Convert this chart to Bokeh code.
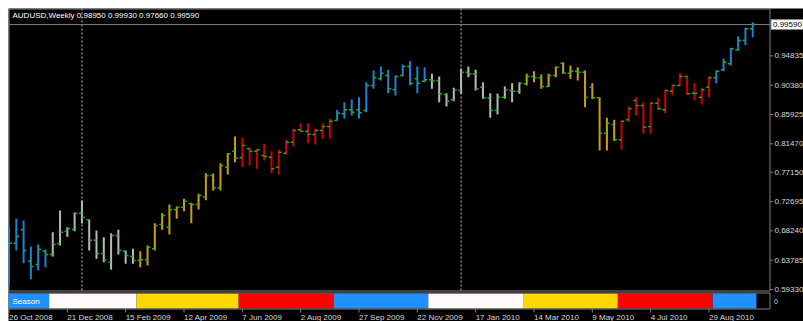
import pandas as pd
from bokeh.plotting import figure
from bokeh.models import Range1d, Span, ColumnDataSource
from bokeh.embed import file_html
from bokeh.resources import INLINE
from bokeh.core.properties import value

# ---------------- data ----------------
symbol = "AUDUSD,Weekly"
first_week = "2008-10-26"

opens = [0.6350, 0.6637, 0.6840, 0.6363, 0.6313, 0.6515, 0.6465, 0.6627, 0.6819, 0.6845,
         0.7093, 0.6992, 0.6680, 0.6480, 0.6348, 0.6754, 0.6515, 0.6435, 0.6374, 0.6384,
         0.6552, 0.6921, 0.6880, 0.7144, 0.7184, 0.7235, 0.7225, 0.7340, 0.7666, 0.7479,
         0.7792, 0.8035, 0.7934, 0.8071, 0.8035, 0.7969, 0.7944, 0.7792, 0.8004, 0.8172,
         0.8360, 0.8339, 0.8289, 0.8349, 0.8410, 0.8502, 0.8603, 0.8664, 0.8664, 0.8653,
         0.9033, 0.9135, 0.9185, 0.8968, 0.9185, 0.9322, 0.9135, 0.9099, 0.9120, 0.9109,
         0.8896, 0.8816, 0.8957, 0.9236, 0.9211, 0.9008, 0.8846, 0.8653, 0.8856, 0.8957,
         0.8947, 0.9059, 0.9170, 0.9150, 0.9018, 0.9185, 0.9372, 0.9220, 0.9251, 0.9236,
         0.9008, 0.8846, 0.8309, 0.8441, 0.8208, 0.8512, 0.8806, 0.8729, 0.8410, 0.8765,
         0.8664, 0.8947, 0.9033, 0.9170, 0.8916, 0.8856, 0.9008, 0.9150, 0.9271, 0.9362,
         0.9576, 0.9717, 0.9895]
highs = [0.6880, 0.7007, 0.6982, 0.6587, 0.6617, 0.6541, 0.6804, 0.7134, 0.6880, 0.7103,
         0.7286, 0.6997, 0.6830, 0.6728, 0.6789, 0.6840, 0.6526, 0.6552, 0.6515, 0.6602,
         0.6941, 0.7093, 0.7225, 0.7194, 0.7311, 0.7250, 0.7387, 0.7700, 0.7696, 0.7852,
         0.8004, 0.8258, 0.8238, 0.8096, 0.8071, 0.8147, 0.8035, 0.8056, 0.8208, 0.8375,
         0.8460, 0.8460, 0.8375, 0.8460, 0.8527, 0.8664, 0.8780, 0.8820, 0.8856, 0.9084,
         0.9261, 0.9322, 0.9272, 0.9185, 0.9352, 0.9402, 0.9322, 0.9312, 0.9211, 0.9170,
         0.8916, 0.8998, 0.9287, 0.9322, 0.9272, 0.9084, 0.8916, 0.8907, 0.9018, 0.9068,
         0.9084, 0.9211, 0.9251, 0.9200, 0.9211, 0.9322, 0.9387, 0.9337, 0.9312, 0.9261,
         0.9068, 0.8856, 0.8542, 0.8512, 0.8500, 0.8714, 0.8856, 0.8780, 0.8780, 0.8846,
         0.8968, 0.9048, 0.9220, 0.9185, 0.9068, 0.8998, 0.9170, 0.9261, 0.9438, 0.9606,
         0.9781, 0.9910, 0.9993]
lows = [0.6020, 0.6526, 0.6333, 0.6090, 0.6222, 0.6272, 0.6435, 0.6602, 0.6735, 0.6819,
        0.6936, 0.6526, 0.6400, 0.6348, 0.6232, 0.6465, 0.6323, 0.6323, 0.6272, 0.6298,
        0.6526, 0.6840, 0.6769, 0.7007, 0.7123, 0.6941, 0.7150, 0.7290, 0.7438, 0.7438,
        0.7681, 0.7868, 0.7792, 0.7817, 0.7767, 0.7893, 0.7700, 0.7681, 0.7984, 0.8106,
        0.8324, 0.8157, 0.8137, 0.8223, 0.8223, 0.8502, 0.8527, 0.8577, 0.8530, 0.8628,
        0.8983, 0.9109, 0.8916, 0.8881, 0.9170, 0.9033, 0.8916, 0.9084, 0.8983, 0.8780,
        0.8714, 0.8795, 0.8907, 0.9160, 0.8957, 0.8831, 0.8542, 0.8593, 0.8831, 0.8780,
        0.8907, 0.9033, 0.9084, 0.8983, 0.9010, 0.9160, 0.9211, 0.9135, 0.9109, 0.8704,
        0.8830, 0.8046, 0.8046, 0.8188, 0.8056, 0.8476, 0.8577, 0.8299, 0.8299, 0.8664,
        0.8612, 0.8881, 0.9025, 0.8896, 0.8806, 0.8744, 0.8856, 0.9068, 0.9251, 0.9337,
        0.9562, 0.9650, 0.9766]
closes = [0.6637, 0.6739, 0.6526, 0.6283, 0.6541, 0.6465, 0.6617, 0.6804, 0.6860, 0.7093,
          0.7027, 0.6680, 0.6480, 0.6380, 0.6754, 0.6526, 0.6450, 0.6374, 0.6384, 0.6576,
          0.6906, 0.7058, 0.7144, 0.7184, 0.7275, 0.7225, 0.7360, 0.7660, 0.7479, 0.7817,
          0.7995, 0.7928, 0.8121, 0.8035, 0.8056, 0.7954, 0.7767, 0.8020, 0.8172, 0.8349,
          0.8339, 0.8289, 0.8349, 0.8410, 0.8491, 0.8612, 0.8664, 0.8628, 0.8620, 0.9033,
          0.9150, 0.9220, 0.8983, 0.9170, 0.9322, 0.9068, 0.9068, 0.9120, 0.9100, 0.8907,
          0.8795, 0.8968, 0.9236, 0.9211, 0.8983, 0.8846, 0.8653, 0.8856, 0.8968, 0.8947,
          0.9068, 0.9170, 0.9150, 0.9018, 0.9185, 0.9312, 0.9220, 0.9251, 0.9236, 0.8856,
          0.8846, 0.8309, 0.8461, 0.8208, 0.8491, 0.8679, 0.8729, 0.8400, 0.8765, 0.8679,
          0.8957, 0.9033, 0.9170, 0.8907, 0.8916, 0.8968, 0.9150, 0.9251, 0.9387, 0.9591,
          0.9717, 0.9895, 0.9959]

date_tick_idx = [0, 8, 16, 24, 32, 40, 48, 56, 64, 72, 80, 88, 96]
date_tick_labels = ["26 Oct 2008", "21 Dec 2008", "15 Feb 2009", "12 Apr 2009", "7 Jun 2009",
                    "2 Aug 2009", "27 Sep 2009", "22 Nov 2009", "17 Jan 2010", "14 Mar 2010",
                    "9 May 2010", "4 Jul 2010", "29 Aug 2010"]
price_ticks = [0.59330, 0.63785, 0.68240, 0.72695, 0.77150, 0.81470, 0.85925, 0.90380, 0.94835]
year_separator_idx = [10, 62]

season_band_colors = {"autumn": "#1E90FF", "winter": "#FFFAFA", "spring": "#FFD700", "summer": "#FF0000"}
season_bar_colors = {"autumn": "#1f80d8", "winter": "#b8b8b8", "spring": "#c8a010", "summer": "#cc0000"}
TICK_GREEN = "#22b022"
GRAY = "#808080"
LABEL = "#d8d8d8"
FONT = value("Liberation Sans")

# ---------------- derived ----------------
n = len(closes)
idx = list(range(n))
dates = pd.date_range(first_week, periods=n, freq="7D")


def season_of(month):
    if month in (12, 1, 2):
        return "winter"
    if month in (3, 4, 5):
        return "spring"
    if month in (6, 7, 8):
        return "summer"
    return "autumn"


seasons = [season_of(d.month) for d in dates]
bar_colors = [season_bar_colors[s] for s in seasons]

runs = []
start = 0
for i in range(1, n + 1):
    if i == n or seasons[i] != seasons[start]:
        runs.append((start - 0.5, i - 0.5, season_band_colors[seasons[start]]))
        start = i

# ---------------- layout ----------------
FRAME_W, FRAME_H = 795, 313          # black area; white 8px margin at top/left
PANEL_W = 761                        # chart panels, the rest is the price scale
X0 = -0.07
ppx = 104.37 / PANEL_W               # index units per pixel
XE = X0 + FRAME_W * ppx
XB = X0 + (PANEL_W + 0.5) * ppx      # right border of the panels
XL = X0 + 0.5 * ppx                  # left border
Y0, Y1 = 0.54467, 1.02035            # price range over the whole frame

p = figure(width=FRAME_W + 8, height=FRAME_H + 8, x_range=Range1d(X0, XE), y_range=Range1d(Y0, Y1),
           output_backend="svg", toolbar_location=None,
           x_axis_location=None, y_axis_location=None,
           background_fill_color="black", border_fill_color="white",
           min_border_left=8, min_border_top=8, min_border_bottom=0, min_border_right=0)
p.outline_line_color = None
p.grid.visible = False
p.extra_y_ranges = {"panel": Range1d(0, FRAME_H)}   # pixel rows measured from bottom

# panel borders
p.quad(left=XL, right=XB, bottom=30.5, top=FRAME_H - 0.5,
       fill_color=None, line_color=GRAY, line_width=1, y_range_name="panel")

# year separators
p.segment(x0=year_separator_idx, x1=year_separator_idx, y0=[31] * len(year_separator_idx),
          y1=[FRAME_H] * len(year_separator_idx), line_color="#c8c8c8", line_width=1,
          line_dash="2 2", y_range_name="panel")

# price scale (right)
p.segment(x0=[XB] * len(price_ticks), x1=[XB + 3 * ppx] * len(price_ticks),
          y0=price_ticks, y1=price_ticks, line_color=GRAY, line_width=1)
p.text(x=[XB + 4.5 * ppx] * len(price_ticks), y=price_ticks, text=["%.5f" % t for t in price_ticks],
       text_color=LABEL, text_font=FONT, text_font_size="8px", text_align="left",
       text_baseline="middle")

# current price line + box
p.segment(x0=[XL], x1=[XB], y0=[closes[-1]], y1=[closes[-1]], line_color=GRAY, line_width=1)
p.rect(x=[XB + 18 * ppx], y=[closes[-1]], width=34, height=10, width_units="screen",
       height_units="screen", fill_color="white", line_color=GRAY)
p.text(x=[XB + 3 * ppx], y=[closes[-1]], text=["%.5f" % closes[-1]], text_color="black",
       text_font=FONT, text_font_size="8px", text_align="left", text_baseline="middle")

# OHLC bars
src = ColumnDataSource(dict(x=idx, o=opens, h=highs, l=lows, c=closes, col=bar_colors,
                            xl=[i - 0.38 for i in idx], xr=[i + 0.38 for i in idx]))
p.segment(x0="x", y0="l", x1="x", y1="h", line_color="col", line_width=2, source=src)
p.segment(x0="xl", y0="o", x1="x", y1="o", line_color=TICK_GREEN, line_width=1.5, source=src)
p.segment(x0="x", y0="c", x1="xr", y1="c", line_color=TICK_GREEN, line_width=1.5, source=src)

# season band
p.quad(left=[r[0] for r in runs], right=[r[1] for r in runs], bottom=13, top=28,
       fill_color=[r[2] for r in runs], line_color=None, y_range_name="panel")
p.quad(left=XL, right=XB, bottom=12.5, top=28.5,
       fill_color=None, line_color=GRAY, line_width=1, y_range_name="panel")
p.text(x=[X0 + 4 * ppx], y=[20.5], text=["Season"], text_color="white", text_font=FONT,
       text_font_size="8px", text_align="left", text_baseline="middle", y_range_name="panel")
p.text(x=[XB + 4 * ppx], y=[20.5], text=["0"], text_color=LABEL, text_font=FONT,
       text_font_size="7px", text_align="left", text_baseline="middle", y_range_name="panel")

# date scale (bottom)
p.segment(x0=date_tick_idx, x1=date_tick_idx, y0=[12.5] * len(date_tick_idx),
          y1=[9] * len(date_tick_idx), line_color=GRAY, line_width=1, y_range_name="panel")
p.text(x=date_tick_idx, y=[4.5] * len(date_tick_idx), text=date_tick_labels, text_color=LABEL,
       text_font=FONT, text_font_size="8px", text_align="left", text_baseline="middle",
       y_range_name="panel")

# header
header = "%s  %.5f %.5f %.5f %.5f" % (symbol, opens[-1], highs[-1], lows[-1], closes[-1])
p.text(x=[X0 + 4 * ppx], y=[FRAME_H - 7], text=[header], text_color="white", text_font=FONT,
       text_font_size="8px", text_align="left", text_baseline="middle", y_range_name="panel")

open("out.html", "w").write(file_html(p, INLINE))
